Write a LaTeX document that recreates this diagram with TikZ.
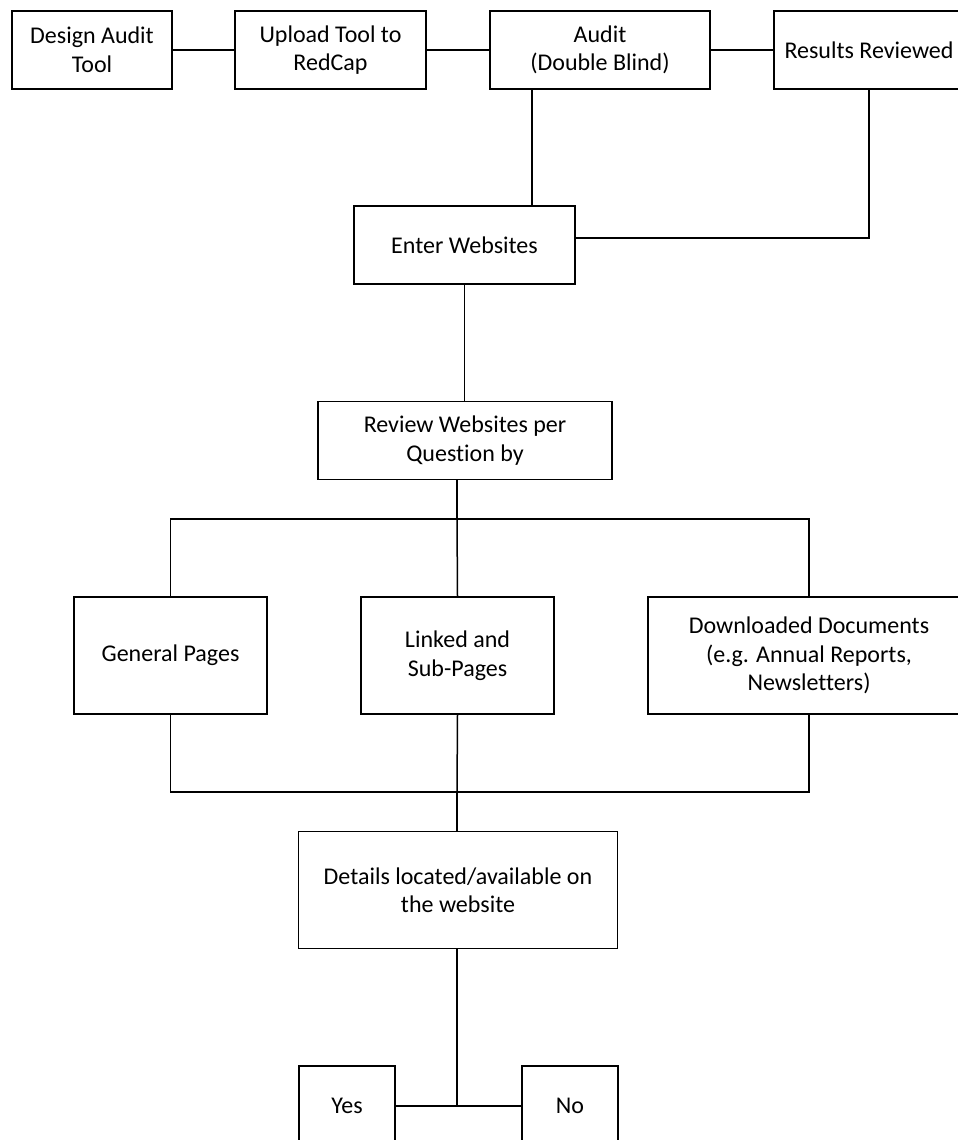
\documentclass[tikz,border=0pt]{standalone}
\usepackage{fontspec}
\setmainfont{Carlito}[Ligatures=NoCommon]
\begin{document}
\begin{tikzpicture}[x=1pt,y=-1pt,
  box/.style={draw=black,line width=1.5pt,fill=white,inner sep=0pt,align=center,
    font=\fontsize{24}{28.5}\selectfont},
  conn/.style={draw=black,line width=1.5pt}]
\clip (0,0) rectangle (958,1140);
\fill[white] (0,0) rectangle (958,1140);
% top row
\node[box,minimum width=160pt,minimum height=78pt] (design) at (92,50) {Design Audit\\Tool};
\node[box,minimum width=191pt,minimum height=78pt] (upload) at (330.5,50) {Upload Tool to\\RedCap};
\node[box,minimum width=220pt,minimum height=78pt] (audit) at (600,50) {Audit\\(Double Blind)};
\node[box,minimum width=190pt,minimum height=78pt] (results) at (869,50) {Results Reviewed};
% middle
\node[box,minimum width=221pt,minimum height=78pt] (enter) at (464.5,245) {Enter Websites};
\node[box,minimum width=294pt,minimum height=78pt] (review) at (465,440.5) {Review Websites per\\Question by};
\node[box,minimum width=193pt,minimum height=117pt] (general) at (170.5,655.5) {General Pages};
\node[box,minimum width=193pt,minimum height=117pt] (linked) at (457.5,655.5) {Linked and\\Sub-Pages};
\node[box,minimum width=322pt,minimum height=117pt] (download) at (809,655.5) {Downloaded Documents\\(e.g. Annual Reports,\\Newsletters)};
\node[box,minimum width=319pt,minimum height=117pt] (details) at (458,890) {Details located/available on\\the website};
\node[box,minimum width=96pt,minimum height=80pt] (yes) at (347,1106) {Yes};
\node[box,minimum width=96pt,minimum height=80pt] (no) at (570,1106) {No};
% helper coordinates
\coordinate (cA) at (532,0);
\coordinate (cR) at (0,238);
\coordinate (cT) at (0,519);
\coordinate (cB) at (0,792);
\coordinate (cM) at (457,0);
\coordinate (cY) at (0,1106);
% connectors
\draw[conn] (design.east) -- (upload.west);
\draw[conn] (upload.east) -- (audit.west);
\draw[conn] (audit.east) -- (results.west);
\draw[conn] (audit.south -| cA) -- (enter.north -| cA);
\draw[conn] (results.south) |- (enter.east |- cR);
\draw[conn] (enter.south) -- (review.north -| enter.south);
\draw[conn] (review.south -| cM) -- (cM |- cT);
\draw[conn] (general.north) |- (cT -| download.north) -- (download.north);
\draw[conn] (cM |- cT) -- (linked.north);
\draw[conn] (general.south) |- (cB -| download.south) -- (download.south);
\draw[conn] (linked.south) -- (cM |- cB);
\draw[conn] (cM |- cB) -- (details.north -| cM);
\draw[conn] (details.south -| cM) -- (cM |- cY);
\draw[conn] (yes.east |- cY) -- (no.west |- cY);
\end{tikzpicture}
\end{document}
